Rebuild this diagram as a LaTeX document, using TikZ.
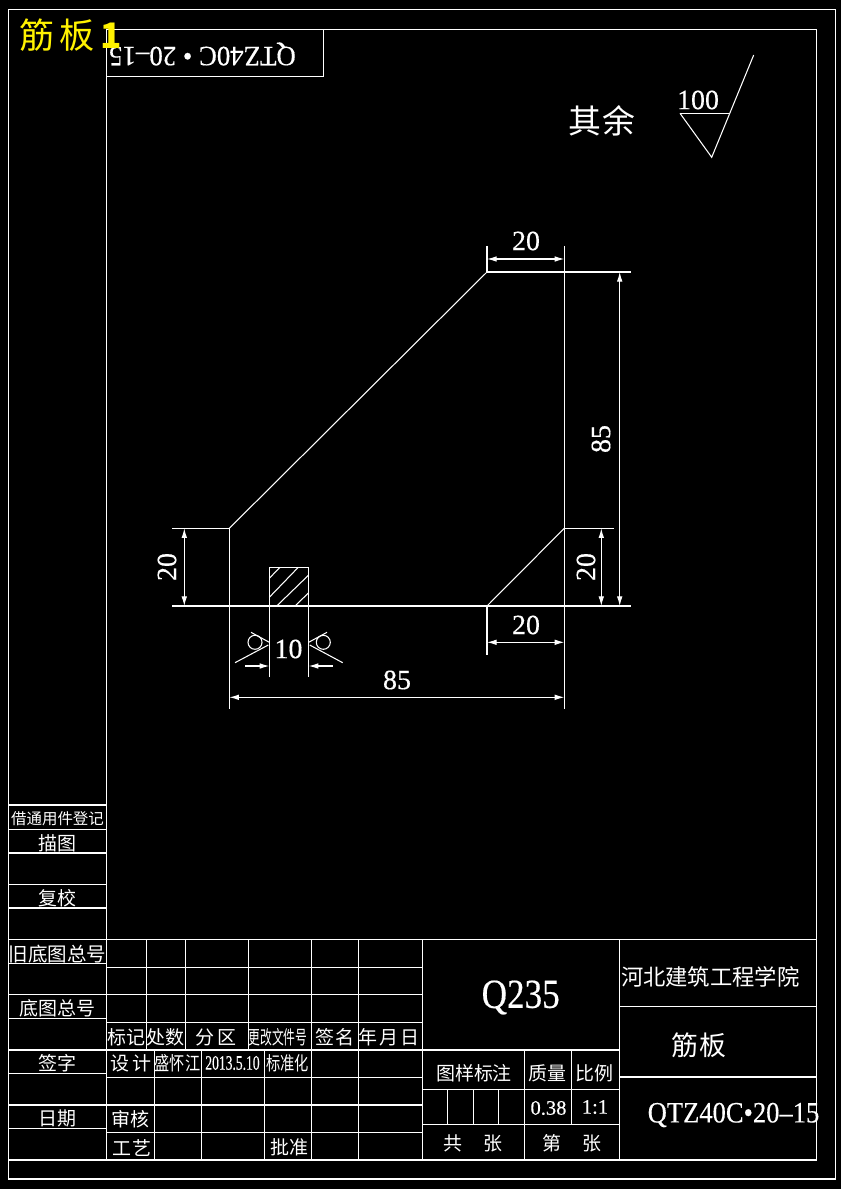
\documentclass[tikz,border=0pt]{standalone}
\usepackage{fontspec}
\usetikzlibrary{arrows.meta}
\newfontfamily\cjk{Noto Sans CJK SC}
\newfontfamily\cad[FakeBold=0.4]{Liberation Serif}
\tikzset{
	cadline/.style={draw=white,line width=0.6pt},
	dimline/.style={cadline,arrows={Latex[length=5.5pt,width=3.2pt]-Latex[length=5.5pt,width=3.2pt]}},
	dimhalf/.style={cadline,arrows={-Latex[length=5.5pt,width=3.2pt]}},
	dimtext/.style={text=white,inner sep=0pt,font=\cad\fontsize{15.9}{18}\selectfont},
	bigtext/.style={text=white,inner sep=0pt,font=\cjk\fontsize{18.7}{20}\selectfont},
	celltext/.style={text=white,inner sep=0pt,font=\cjk\fontsize{10.8}{12}\selectfont},
	smalltext/.style={text=white,inner sep=0pt,font=\cjk\fontsize{8.8}{10}\selectfont}
}
\begin{document}
\begin{tikzpicture}[x=0.02cm,y=-0.02cm]
		\fill[black] (0, 0) rectangle (841, 1189);
		\useasboundingbox (0, 0) rectangle (841, 1189);
		\draw[cadline] (8.5, 9.5) rectangle (835.5, 1179);
		\draw[cadline] (106.7, 29.3) rectangle (816.7, 1160);
		\draw[cadline] (106.7, 76.3) -- (323.7, 76.3) -- (323.7, 29.3);
		\draw[cadline] (8.5, 805) -- (106.7, 805);
		\draw[cadline] (8.5, 829.3) -- (106.7, 829.3);
		\draw[cadline] (8.5, 853) -- (106.7, 853);
		\draw[cadline] (8.5, 884.3) -- (106.7, 884.3);
		\draw[cadline] (8.5, 908) -- (106.7, 908);
		\draw[cadline] (8.5, 939.3) -- (816.7, 939.3);
		\draw[cadline] (8.5, 963.3) -- (106.7, 963.3);
		\draw[cadline] (8.5, 994.3) -- (106.7, 994.3);
		\draw[cadline] (8.5, 1018.3) -- (106.7, 1018.3);
		\draw[cadline] (8.5, 1050) -- (619.3, 1050);
		\draw[cadline] (8.5, 1073.3) -- (106.7, 1073.3);
		\draw[cadline] (8.5, 1105) -- (422.3, 1105);
		\draw[cadline] (8.5, 1128.3) -- (106.7, 1128.3);
		\draw[cadline] (8.5, 1160) -- (106.7, 1160);
		\draw[cadline] (106.7, 967.3) -- (422.3, 967.3);
		\draw[cadline] (106.7, 994.3) -- (422.3, 994.3);
		\draw[cadline] (106.7, 1022.3) -- (422.3, 1022.3);
		\draw[cadline] (106.7, 1077.3) -- (422.3, 1077.3);
		\draw[cadline] (106.7, 1132.3) -- (422.3, 1132.3);
		\draw[cadline] (146.3, 939.3) -- (146.3, 1050);
		\draw[cadline] (185.3, 939.3) -- (185.3, 1050);
		\draw[cadline] (248.3, 939.3) -- (248.3, 1050);
		\draw[cadline] (154.3, 1050) -- (154.3, 1160);
		\draw[cadline] (201.7, 1050) -- (201.7, 1160);
		\draw[cadline] (264.3, 1050) -- (264.3, 1160);
		\draw[cadline] (311.7, 939.3) -- (311.7, 1160);
		\draw[cadline] (358.7, 939.3) -- (358.7, 1160);
		\draw[cadline] (422.3, 939.3) -- (422.3, 1160);
		\draw[cadline] (619.3, 939.3) -- (619.3, 1160);
		\draw[cadline] (524.3, 1050) -- (524.3, 1160);
		\draw[cadline] (571.7, 1050) -- (571.7, 1124.3);
		\draw[cadline] (447.7, 1089.3) -- (447.7, 1124.3);
		\draw[cadline] (473.3, 1089.3) -- (473.3, 1124.3);
		\draw[cadline] (498.7, 1089.3) -- (498.7, 1124.3);
		\draw[cadline] (422.3, 1089.3) -- (619.3, 1089.3);
		\draw[cadline] (422.3, 1124.3) -- (619.3, 1124.3);
		\draw[cadline] (619.3, 1006.3) -- (816.7, 1006.3);
		\draw[cadline] (619.3, 1077) -- (816.7, 1077);

		\draw[cadline] (229.3, 528.3) -- (487, 272);
		\draw[cadline] (487, 606) -- (564.3, 528.3);
		\draw[cadline] (229.3, 528.3) -- (229.3, 709);
		\draw[cadline] (564.3, 246) -- (564.3, 709);
		\draw[cadline] (487, 246) -- (487, 272);
		\draw[cadline] (487, 606) -- (487, 655);
		\draw[cadline] (172, 528.3) -- (229.3, 528.3);
		\draw[cadline] (172, 606) -- (631, 606);
		\draw[cadline] (487, 272) -- (631, 272);
		\draw[cadline] (564.3, 528.3) -- (613.7, 528.3);
		\draw[cadline] (269.3, 677.3) -- (269.3, 567.3) -- (308.7, 567.3) -- (308.7, 677.3);
		\draw[cadline] (269.3, 578.3) -- (280, 567.3);
		\draw[cadline] (269.3, 597.3) -- (298.3, 567.3);
		\draw[cadline] (276.7, 606) -- (308.7, 575);
		\draw[cadline] (295, 606) -- (308.7, 592.7);
		\draw[dimline] (487, 259) -- (564.3, 259);
		\draw[dimline] (487, 642.3) -- (564.3, 642.3);
		\draw[dimline] (229.3, 697.3) -- (564.3, 697.3);
		\draw[dimline] (184.3, 528.3) -- (184.3, 606);
		\draw[dimline] (601.3, 528.3) -- (601.3, 606);
		\draw[dimline] (619.7, 272) -- (619.7, 606);
		\draw[dimhalf] (245, 666) -- (269.3, 666);
		\draw[dimhalf] (332.7, 666) -- (308.7, 666);
		\draw[cadline] (255, 642.3) circle (7);
		\draw[cadline] (323.3, 642.3) circle (7);
		\draw[cadline] (235, 662.7) -- (268.3, 645);
		\draw[cadline] (251, 632.3) -- (269.3, 642.3);
		\draw[cadline] (342.7, 662.7) -- (309.7, 645);
		\draw[cadline] (327, 632.3) -- (308.7, 642.3);
		\draw[cadline] (680, 113.3) -- (730, 113.3);
		\draw[cadline] (680, 113.3) -- (711.7, 157.3) -- (753.7, 55);

		\draw
		node[dimtext] (dim_top) at (526, 241){20}
		node[dimtext,rotate=90] (dim_left) at (167, 567){20}
		node[dimtext,rotate=90] (dim_right) at (586, 567){20}
		node[dimtext,rotate=90] (dim_height) at (601, 439){85}
		node[dimtext] (dim_bottom) at (526, 625){20}
		node[dimtext] (dim_rib) at (288.5, 649){10}
		node[dimtext] (dim_width) at (397, 680){85}
		node[dimtext] (rough_val) at (698, 100){100}
		node[bigtext] (rough_rest) at (602, 121){其\hspace{1pt}余};
		\draw
		node[dimtext,rotate=180] (sheet_code) at (202.5, 54){\scalebox{.96}[1]{QTZ40C • 20–15}}
		node[dimtext] (material) at (520.7, 997.5){\fontsize{23.5}{26}\selectfont\scalebox{.85}[1]{Q235}}
		node[dimtext] (drawing_no) at (733.5, 1115){\fontsize{16.8}{19}\selectfont\scalebox{.9}[1]{QTZ40C•20–15}}
		node[dimtext] (mass_val) at (548.5, 1108){\fontsize{11.7}{14}\selectfont 0.38}
		node[dimtext] (scale_val) at (595, 1107){\fontsize{11.7}{14}\selectfont 1:1}
		node[dimtext] (date_val) at (232.5, 1063){\fontsize{11.7}{14}\selectfont\scalebox{.66}[1]{2013.5.10}};
		\draw
		node[smalltext] (reg) at (57.5, 819){借通用件登记}
		node[celltext] (trace) at (57.5, 843){描图}
		node[celltext] (recheck) at (57.5, 898){复校}
		node[celltext,font=\cjk\fontsize{11.1}{12}\selectfont] (old_no) at (57.5, 954){旧底图总号}
		node[celltext] (base_no) at (57.5, 1008){底图总号}
		node[celltext] (sign) at (57.5, 1063){签字}
		node[celltext] (date) at (57.5, 1118){日期}
		node[celltext] (mark) at (126.5, 1037){标记}
		node[celltext] (count) at (165.5, 1037){处数}
		node[celltext] (zone) at (215.8, 1037){分\hspace{1.5pt}区}
		node[celltext] (change) at (278, 1037){\scalebox{.62}[1]{更改文件号}}
		node[celltext] (signname) at (335, 1037){签\hspace{1pt}名}
		node[celltext] (ymd) at (389, 1037){年\hspace{1pt}月\hspace{1pt}日}
		node[celltext] (design) at (131, 1063){设\hspace{1.5pt}计}
		node[celltext] (designer) at (177.5, 1063){\scalebox{.8}[1]{盛怀江}}
		node[celltext] (standard) at (287.5, 1063){\scalebox{.75}[1]{标准化}}
		node[celltext] (review) at (130.5, 1119){审核}
		node[celltext] (craft) at (132, 1148){工\hspace{1pt}艺}
		node[celltext] (approve) at (289.5, 1147){批准}
		node[celltext] (pattern) at (474, 1073){图样标注}
		node[celltext] (mass) at (547.5, 1073){质量}
		node[celltext] (ratio) at (594, 1073){比例}
		node[celltext] (total) at (473, 1143){共\hspace{12pt}张}
		node[celltext] (page) at (572, 1143){第\hspace{12pt}张}
		node[celltext,font=\cjk\fontsize{12.7}{14}\selectfont] (school) at (710.3, 976.7){河北建筑工程学院}
		node[celltext,font=\cjk\fontsize{15.3}{17}\selectfont] (part) at (699, 1045){筋\hspace{1pt}板};
		\draw
		node[bigtext,text=yellow,anchor=west,font=\cjk\fontsize{20}{22}\selectfont] (title) at (19, 35){筋\hspace{3pt}板\hspace{3pt}\bfseries 1};
\end{tikzpicture}
\end{document}
